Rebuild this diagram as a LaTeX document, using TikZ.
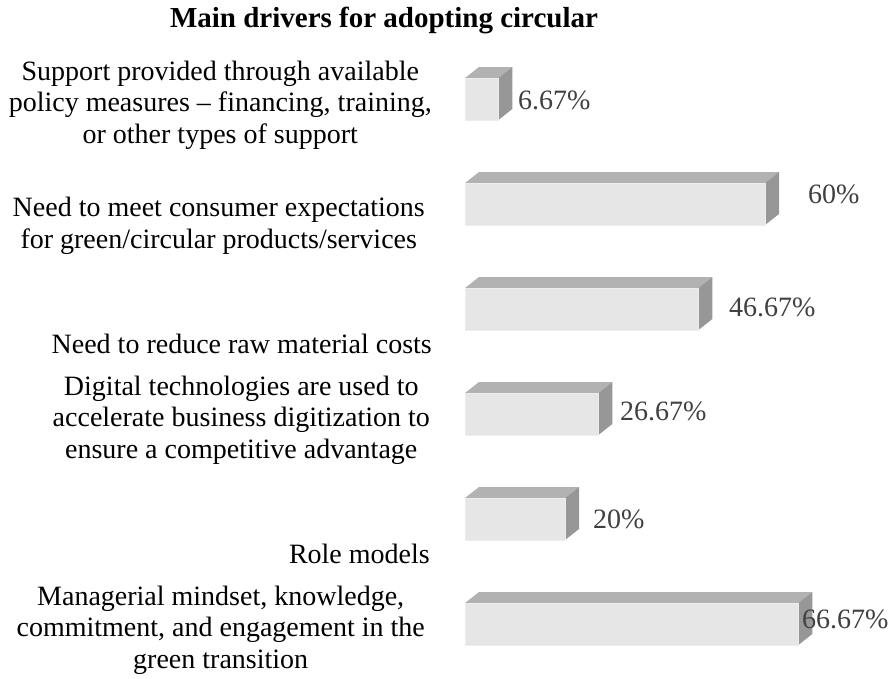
\documentclass[tikz,border=0pt]{standalone}
\usepackage{fontspec}
\setmainfont{Liberation Serif}
\definecolor{barfront}{HTML}{E6E6E6}
\definecolor{bartop}{HTML}{B2B2B2}
\definecolor{barside}{HTML}{979797}
\definecolor{valtext}{HTML}{404040}
\tikzset{
  front/.style={fill=barfront, draw=barfront!70!white, line width=0.6pt},
  topface/.style={fill=bartop},
  sideface/.style={fill=barside},
  driver/.style={anchor=base east, inner sep=0pt, align=center, font=\fontsize{28}{31.5}\selectfont},
  share/.style={anchor=base west, inner sep=0pt, text=valtext, font=\fontsize{28}{31.5}\selectfont}
}
\begin{document}
\begin{tikzpicture}[x=1pt, y=-1pt]
            \useasboundingbox (0,0) rectangle (893,678);

            \node[anchor=base, inner sep=0pt, font=\fontsize{29}{33}\selectfont\bfseries] (title) at (384,27) {Main drivers for adopting circular};

            % bars: top edge, value in percent
            \foreach \t/\v in {78/6.67, 183/60, 288/46.67, 393/26.67, 498/20, 603/66.67}{
              \pgfmathsetmacro{\xe}{465+5*\v}
              \fill[topface] (465,\t) -- (479,\t-11) -- (\xe+14,\t-11) -- (\xe,\t) -- cycle;
              \fill[sideface] (\xe,\t) -- (\xe+14,\t-11) -- (\xe+14,\t+31) -- (\xe,\t+42) -- cycle;
              \filldraw[front] (465,\t) rectangle (\xe,\t+42);
            }

            % base of the last line
            \node[driver] (d1) at (432,143) {Support provided through available\\policy measures -- financing, training,\\or other types of support};
            \node[driver] (d2) at (425,248) {Need to meet consumer expectations\\for green/circular products/services};
            \node[driver] (d3) at (432,353) {Need to reduce raw material costs};
            \node[driver] (d4) at (430,458) {Digital technologies are used to\\accelerate business digitization to\\ensure a competitive advantage};
            \node[driver] (d5) at (430,563) {Role models};
            \node[driver] (d6) at (425,668) {Managerial mindset, knowledge,\\commitment, and engagement in the\\green transition};

            \node[share] (v1) at (518,109) {6.67\%};
            \node[share] (v2) at (808,203) {60\%};
            \node[share] (v3) at (729,316) {46.67\%};
            \node[share] (v4) at (620,420) {26.67\%};
            \node[share] (v5) at (593,528) {20\%};
            \node[share] (v6) at (802,628) {66.67\%};
        \end{tikzpicture}
\end{document}
